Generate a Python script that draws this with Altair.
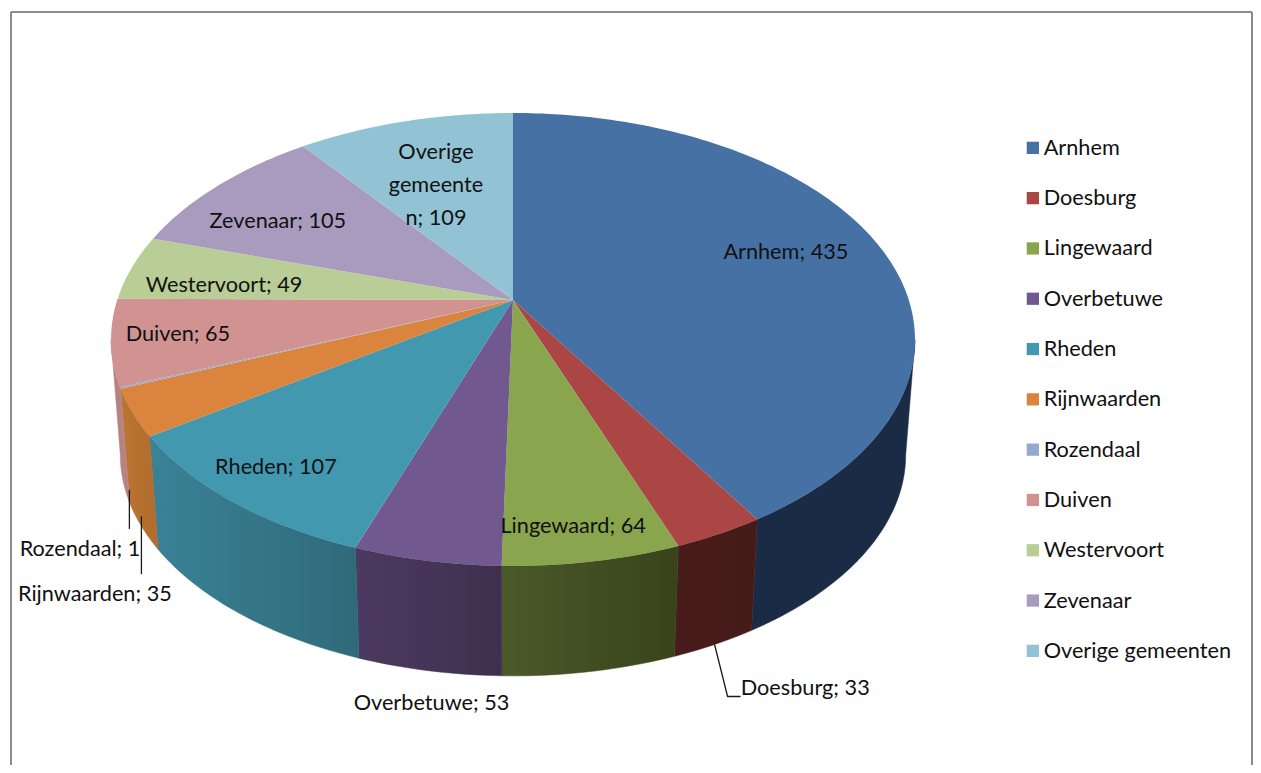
import math
import altair as alt
import pandas as pd

names = ["Arnhem", "Doesburg", "Lingewaard", "Overbetuwe", "Rheden", "Rijnwaarden",
         "Rozendaal", "Duiven", "Westervoort", "Zevenaar", "Overige gemeenten"]
values = [435, 33, 64, 53, 107, 35, 1, 65, 49, 105, 109]
top_colors = ["#4671A5", "#AA4644", "#89A54E", "#71588F", "#4198AF", "#DB843D",
              "#93A9CF", "#D19392", "#B9CD96", "#A99BBD", "#92C3D5"]
wall_left = ["#1A2C45", "#471C1A", "#4B5A2A", "#4C3A60", "#3A8296", "#BC7632",
             "#B98583", "#B78280", "#7F8F66", "#75698A", "#658C9A"]
wall_right = ["#1A2C45", "#451B19", "#38431A", "#3E2F4E", "#2F6A7A", "#B06C2C",
              "#B98583", "#B78280", "#7F8F66", "#75698A", "#658C9A"]
label_texts = ["Arnhem; 435", "Doesburg; 33", "Lingewaard; 64", "Overbetuwe; 53", "Rheden; 107",
               "Rijnwaarden; 35", "Rozendaal; 1", "Duiven; 65", "Westervoort; 49", "Zevenaar; 105",
               "Overige\ngemeente\nn; 109"]
# label placement in pie coordinates: radius fraction, clock angle in degrees
label_polar = [(.752, 72.4), (1.463, 157.3), (.882, 171.6), (1.399, 186.4), (.855, 218.2),
               (1.382, 218.3), (1.315, 224), (.838, 259.6), (.742, 275.3), (.741, 301.2), (.795, 343.9)]
leaders = {"Doesburg": [(0, 0), (13, 52), (26, 52)],
           "Rijnwaarden": [(0, -10), (0, 48)],
           "Rozendaal": [(0, -12), (0, 27)]}

# projection of the tilted disc
CX, CY = 513, 300
A, B, K = 219.6, 395.8, 0.1744
BOTTOM_SHIFT, BOTTOM_SCALE = 116, 0.977
WALL_FROM = math.degrees(math.acos(-K))
WALL_TO = 360 - WALL_FROM


def project(angle, r=1.0, bottom=False):
    t = math.radians(angle)
    u, v = r * math.sin(t), r * math.cos(t)
    d = 1 + K * v
    s = BOTTOM_SCALE if bottom else 1
    return CX + s * B * u / d, CY + (BOTTOM_SHIFT if bottom else 0) - s * A * v / d


def sweep(a0, a1):
    n = max(2, int(abs(a1 - a0) / 1.0) + 1)
    return [a0 + (a1 - a0) * i / (n - 1) for i in range(n)]


total = sum(values)
edges = [0.0]
for val in values:
    edges.append(edges[-1] + val / total * 360)

top_rows, wall_frames, label_rows, leader_rows = [], [], [], []
for i, name in enumerate(names):
    a0, a1 = edges[i], edges[i + 1]
    pts = [(CX, CY)] + [project(a) for a in sweep(a0, a1)] + [(CX, CY)]
    top_rows += [{"name": name, "idx": j, "x": p[0], "y": p[1]} for j, p in enumerate(pts)]
    w0, w1 = max(a0, WALL_FROM), min(a1, WALL_TO)
    if w1 > w0:
        arc = sweep(w0, w1)
        ring = [project(a) for a in arc] + [project(a, bottom=True) for a in reversed(arc)]
        ring.append(ring[0])
        wall_frames.append((i, pd.DataFrame([{"idx": j, "x": p[0], "y": p[1]} for j, p in enumerate(ring)])))
    lx, ly = project(label_polar[i][1], label_polar[i][0])
    label_rows.append({"x": lx, "y": ly, "t": label_texts[i]})
    if name in leaders:
        sx, sy = project((a0 + a1) / 2, bottom=True)
        for j, (dx, dy) in enumerate(leaders[name]):
            leader_rows.append({"name": name, "idx": j, "x": sx + dx, "y": sy + dy})

X = alt.X("x:Q", axis=None, scale=alt.Scale(domain=[11, 1253]))
Y = alt.Y("y:Q", axis=None, scale=alt.Scale(domain=[765, 12]))
O = alt.Order("idx:Q")

layers = []
for i, frame in wall_frames:
    grad = alt.LinearGradient(gradient="linear", x1=0, x2=1, y1=0, y2=0,
                              stops=[alt.GradientStop(offset=0, color=wall_left[i]),
                                     alt.GradientStop(offset=1, color=wall_right[i])])
    layers.append(alt.Chart(frame).mark_line(fill=grad, stroke=wall_right[i], strokeWidth=0.5).encode(x=X, y=Y, order=O))

legend = alt.Legend(title=None, orient="none", legendX=1011, legendY=125, symbolType="square", symbolSize=150,
                    symbolStrokeWidth=0, symbolOpacity=1, labelFont="Lato", labelFontSize=21.7, labelColor="#111111",
                    rowPadding=27.3, labelOffset=0, labelLimit=260, values=names)
layers.append(alt.Chart(pd.DataFrame(top_rows)).mark_line(strokeWidth=0).encode(
    x=X, y=Y, order=O,
    fill=alt.Fill("name:N", scale=alt.Scale(domain=names, range=top_colors), legend=legend)))

layers.append(alt.Chart(pd.DataFrame(leader_rows)).mark_line(color="#1a1a1a", strokeWidth=1.3).encode(
    x=X, y=Y, order=O, detail="name:N"))
layers.append(alt.Chart(pd.DataFrame(label_rows)).mark_text(
    font="Lato", fontSize=21.7, color="#111111", lineBreak="\n", lineHeight=33).encode(x=X, y=Y, text="t:N"))

frame_df = pd.DataFrame({"k": ["frame"]})
for enc in [dict(x=alt.value(0), y=alt.value(0), y2=alt.value(753)),
            dict(x=alt.value(1241), y=alt.value(0), y2=alt.value(753)),
            dict(y=alt.value(0), x=alt.value(0), x2=alt.value(1241))]:
    layers.append(alt.Chart(frame_df).mark_rule(color="#8C8C8C", strokeWidth=2).encode(**enc))

chart = alt.layer(*layers).properties(
    width=1242, height=753,
    padding={"left": 3, "top": 4, "right": 0, "bottom": 0},
    autosize=alt.AutoSizeParams(type="none"),
).configure_view(stroke=None)
chart.save("out.html", embed_options={"renderer": "svg", "actions": False})
